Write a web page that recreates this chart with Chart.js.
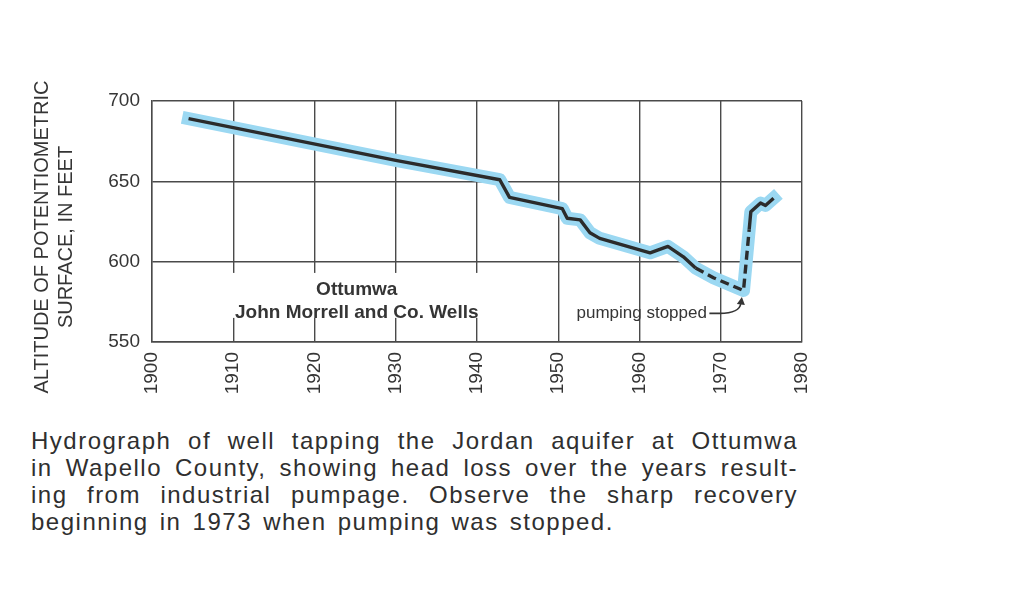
<!DOCTYPE html>
<html>
<head>
<meta charset="utf-8">
<title>Ottumwa hydrograph</title>
<script src="https://cdn.jsdelivr.net/npm/chart.js@4.4.0/dist/chart.umd.min.js"></script>
<style>
  body { margin: 0; background: #fff; }
  #wrap { position: absolute; left: 0; top: 0; width: 1011px; height: 420px; }
  #caption {
    position: absolute; left: 31px; top: 427px; width: 767px;
    font: 24px "Liberation Sans", Arial, sans-serif; line-height: 27px; color: #2f2f2f;
    letter-spacing: 1.5px; word-spacing: 3px;
  }
  #caption div { text-align: justify; text-align-last: justify; white-space: nowrap; }
  #caption div.last { text-align-last: left; }
</style>
</head>
<body>
<div id="wrap"><canvas id="hydrograph"></canvas></div>
<div id="caption">
  <div>Hydrograph of well tapping the Jordan aquifer at Ottumwa</div>
  <div>in Wapello County, showing head loss over the years result-</div>
  <div>ing from industrial pumpage. Observe the sharp recovery</div>
  <div class="last">beginning in 1973 when pumping was stopped.</div>
</div>
<script>
// Water level of the well
const years = [1904.5, 1930, 1942.8, 1944, 1950.5, 1951.1, 1952.7, 1953.9, 1955.1, 1961.3,
               1963.5, 1965.4, 1966.9, 1969.1, 1972.8, 1973.5, 1973.7, 1974.9, 1975.5, 1976.5];
const altitudes = [689, 663, 651, 640, 633, 627, 626, 618, 614.5, 605.5,
                   609.5, 603, 596, 590, 582, 620, 631, 636.5, 635, 639.5];

// part of the record that is drawn dashed
const dashedStart = 1966.9;
const dashedEnd = 1973.5;

// axes
const yearRange = [1900, 1980];
const yearStep = 10;
const altitudeRange = [550, 700];
const altitudeStep = 50;

const yAxisTitle = ['ALTITUDE OF POTENTIOMETRIC', 'SURFACE, IN FEET'];
const wellLabel = ['Ottumwa', 'John Morrell and Co. Wells'];
const stopLabel = 'pumping stopped';

const FONT = '"Liberation Sans", Arial, Helvetica, sans-serif';
const INK = '#353535';
const points = years.map((yr, i) => ({ x: yr, y: altitudes[i] }));

/**
 * Axis title, well name and the "pumping stopped" arrow
 */
const annotations = {
    id: 'annotations',
    beforeDatasetsDraw(chart) {
        const { ctx, scales: { x, y } } = chart;
        ctx.save();

        // white patch under the well name breaks the grid lines
        const left = x.getPixelForValue(1902);
        const right = x.getPixelForValue(1947);
        const top = y.getPixelForValue(593);
        const bottom = y.getPixelForValue(565);
        ctx.fillStyle = '#fff';
        ctx.fillRect(left, top, right - left, bottom - top);

        ctx.fillStyle = INK;
        ctx.font = 'bold 19px ' + FONT;
        ctx.textAlign = 'center';
        ctx.textBaseline = 'middle';
        const cx = x.getPixelForValue(1925.2);
        ctx.fillText(wellLabel[0], cx, y.getPixelForValue(582.2));
        ctx.fillText(wellLabel[1], cx, y.getPixelForValue(568.5));

        ctx.font = '17px ' + FONT;
        ctx.textAlign = 'right';
        ctx.fillText(stopLabel, x.getPixelForValue(1968.3), y.getPixelForValue(567.8));
        ctx.restore();
    },
    afterDatasetsDraw(chart) {
        const { ctx, scales: { x, y } } = chart;
        ctx.save();

        // arrow from the label to the lowest point
        const sx = x.getPixelForValue(1968.6), sy = y.getPixelForValue(567.8);
        const tx = x.getPixelForValue(1972.6), ty = y.getPixelForValue(578);
        ctx.strokeStyle = INK;
        ctx.fillStyle = INK;
        ctx.lineWidth = 1.6;
        ctx.beginPath();
        ctx.moveTo(sx, sy);
        ctx.lineTo(sx + 10, sy);
        ctx.quadraticCurveTo(tx - 2, sy, tx - 1, ty + 6);
        ctx.stroke();
        ctx.beginPath();
        ctx.moveTo(tx, ty);
        ctx.lineTo(tx - 5, ty + 7);
        ctx.lineTo(tx + 3, ty + 8);
        ctx.closePath();
        ctx.fill();

        // y axis title, two lines
        ctx.fillStyle = INK;
        ctx.font = '20px ' + FONT;
        ctx.textAlign = 'center';
        ctx.textBaseline = 'middle';
        yAxisTitle.forEach((line, i) => {
            ctx.save();
            ctx.translate(42 + i * 24, 237);
            ctx.rotate(-Math.PI / 2);
            ctx.fillText(line, 0, 0);
            ctx.restore();
        });
        ctx.restore();
    }
};

const gridStyle = { color: '#4a4a4a', lineWidth: 1.4, drawTicks: false };
const borderStyle = { color: '#4a4a4a', width: 1.4 };

new Chart(document.getElementById('hydrograph'), {
    type: 'line',
    data: {
        datasets: [{
            // dark record line
            data: points,
            borderColor: '#2b2b2b',
            borderWidth: 3.4,
            pointRadius: 0,
            tension: 0,
            borderJoinStyle: 'round',
            segment: {
                borderDash: ctx => (ctx.p0.parsed.x >= dashedStart && ctx.p1.parsed.x <= dashedEnd) ? [9, 5] : undefined
            }
        }, {
            // light blue band under the line
            data: points,
            borderColor: '#9bd8f2',
            borderWidth: 13,
            borderCapStyle: 'square',
            borderJoinStyle: 'round',
            pointRadius: 0,
            tension: 0
        }]
    },
    options: {
        responsive: true,
        maintainAspectRatio: false,
        animation: false,
        layout: { padding: { left: 0, top: 101, right: 209, bottom: 0 } },
        plugins: {
            legend: { display: false },
            tooltip: { enabled: false }
        },
        scales: {
            x: {
                type: 'linear',
                min: yearRange[0],
                max: yearRange[1],
                grid: gridStyle,
                border: borderStyle,
                ticks: {
                    stepSize: yearStep,
                    autoSkip: false,
                    minRotation: 90,
                    maxRotation: 90,
                    padding: 10,
                    color: INK,
                    font: { family: FONT, size: 19 },
                    callback: v => String(v)
                },
                afterFit: scale => { scale.height = 78; }
            },
            y: {
                type: 'linear',
                min: altitudeRange[0],
                max: altitudeRange[1],
                grid: gridStyle,
                border: borderStyle,
                ticks: {
                    stepSize: altitudeStep,
                    padding: 12,
                    color: INK,
                    font: { family: FONT, size: 19 }
                },
                afterFit: scale => { scale.width = 152; }
            }
        }
    },
    plugins: [annotations]
});
</script>
</body>
</html>
